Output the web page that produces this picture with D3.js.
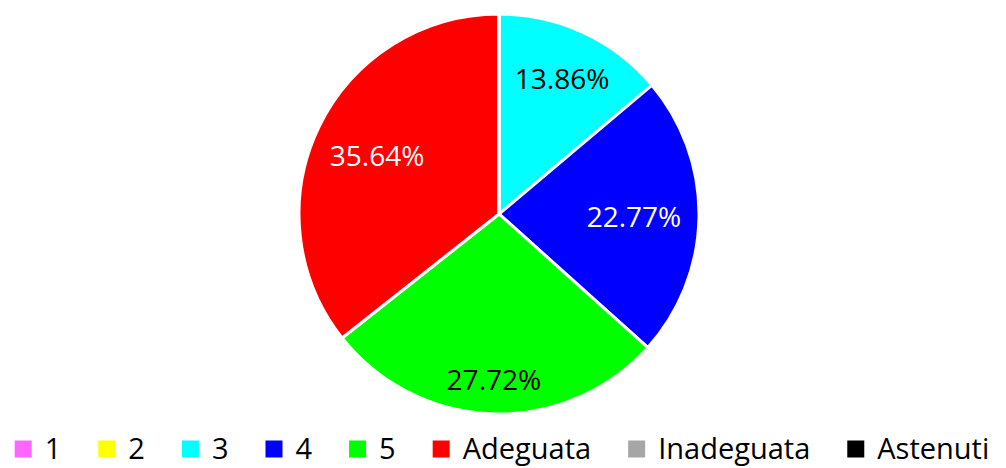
<!DOCTYPE html>
<html>
<head>
<meta charset="utf-8">
<script src="https://cdn.jsdelivr.net/npm/d3@7"></script>
<style>
  html, body { margin: 0; padding: 0; background: #fff; }
  text { font-family: "Open Sans", "Noto Sans", sans-serif; }
</style>
</head>
<body>
<svg id="chart" width="1006" height="468"></svg>
<script>
var categories = ["1", "2", "3", "4", "5", "Adeguata", "Inadeguata", "Astenuti"];
var counts = [0, 0, 14, 23, 28, 36, 0, 0];
var colors = ["#FF66FF", "#FFFF00", "#00FFFF", "#0000FF", "#00FF00", "#FF0000", "#A6A6A6", "#000000"];
var labelColors = ["#000", "#000", "#000", "#fff", "#000", "#fff", "#000", "#fff"];

var data = categories.map(function (c, i) {
  return { name: c, value: counts[i], color: colors[i], label: labelColors[i] };
});

var svg = d3.select("#chart"),
    cx = 499, cy = 214, radius = 200;

var total = d3.sum(counts);
var fmt = function (v) { return (v / total * 100).toFixed(2) + "%"; };

var pie = d3.pie().sort(null).value(function (d) { return d.value; });
var arc = d3.arc().innerRadius(0).outerRadius(radius);

var g = svg.append("g").attr("transform", "translate(" + cx + "," + cy + ")");

var arcs = pie(data);

g.selectAll("path")
  .data(arcs)
  .enter().append("path")
    .attr("d", arc)
    .attr("fill", function (d) { return d.data.color; })
    .attr("stroke", "#fff")
    .attr("stroke-width", 3)
    .attr("stroke-linejoin", "miter");

// labels: push out along mid angle until box corner reaches limit
var limit = radius * 0.915;
var labels = g.selectAll("text.lbl")
  .data(arcs.filter(function (d) { return d.data.value > 0; }))
  .enter().append("text")
    .attr("class", "lbl")
    .attr("text-anchor", "middle")
    .attr("dominant-baseline", "central")
    .attr("font-size", 28)
    .attr("fill", function (d) { return d.data.label; })
    .text(function (d) { return fmt(d.data.value); });

labels.each(function (d) {
  var bb = this.getBBox(),
      hw = bb.width / 2, hh = 10,
      a = (d.startAngle + d.endAngle) / 2,
      sx = Math.sin(a), sy = -Math.cos(a),
      dist = 0;
  for (var r = 0; r < radius; r += 0.5) {
    var px = sx * r, py = sy * r;
    var fx = px + (sx >= 0 ? hw : -hw), fy = py + (sy >= 0 ? hh : -hh);
    if (Math.sqrt(fx * fx + fy * fy) > limit) break;
    dist = r;
  }
  d3.select(this).attr("x", sx * dist).attr("y", sy * dist);
});

// legend
var legend = svg.append("g");
var sq = 17, gapText = 13, gapItem = 37, x = 0;
data.forEach(function (d) {
  var item = legend.append("g").attr("transform", "translate(" + x + ",0)");
  item.append("rect")
    .attr("x", 0).attr("y", -sq / 2)
    .attr("width", sq).attr("height", sq)
    .attr("fill", d.color);
  var t = item.append("text")
    .attr("x", sq + gapText)
    .attr("dy", "0.36em")
    .attr("font-size", 29)
    .attr("fill", "#000")
    .text(d.name);
  x += sq + gapText + t.node().getComputedTextLength() + gapItem;
});
var lw = x - gapItem;
legend.attr("transform", "translate(" + (502 - lw / 2) + ",449)");
</script>
</body>
</html>
